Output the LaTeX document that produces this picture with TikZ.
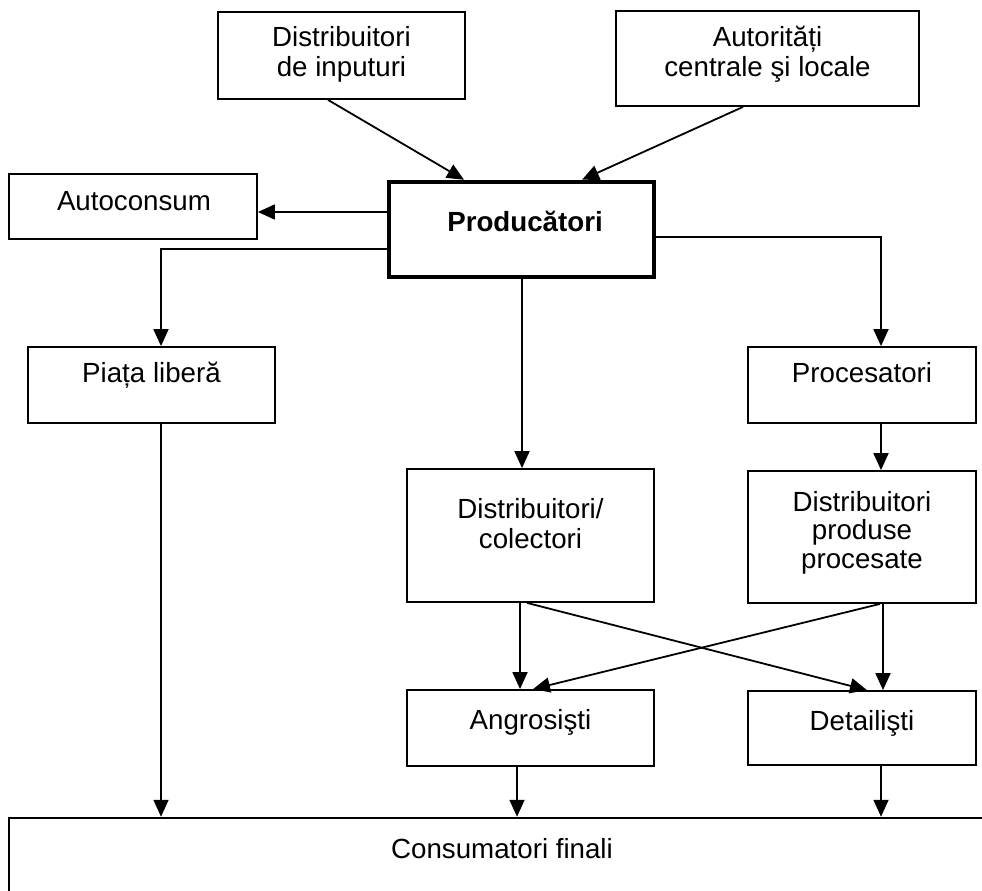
\documentclass[tikz,border=0pt]{standalone}
\usepackage{fontspec}
\setmainfont{Liberation Sans}
\usetikzlibrary{arrows.meta}
\newcommand{\mlines}[2][1]{{\renewcommand\arraystretch{#1}\begin{tabular}[t]{@{}c@{}}#2\end{tabular}}}
\begin{document}
\begin{tikzpicture}[x=1pt,y=-1pt,
  box/.style={draw, rectangle, line width=1.8pt, inner sep=0pt},
  thickbox/.style={draw, rectangle, line width=4.5pt, inner sep=0pt},
  txt/.style={anchor=base, inner sep=0pt, font=\fontsize{27.7}{30}\selectfont},
  arr/.style={line width=1.8pt, -{Triangle[length=17pt,width=15pt]}},
  lnk/.style={line width=1.8pt}]
\useasboundingbox (0,0) rectangle (982,891);
\clip (0,0) rectangle (982,891);
% boxes
\node[box, minimum width=247pt, minimum height=87pt] (din) at (341.5,55.5) {};
\node[box, minimum width=303pt, minimum height=95pt] (aut) at (767.5,58.5) {};
\node[box, minimum width=248pt, minimum height=65pt] (auto) at (133,206.5) {};
\node[thickbox, minimum width=265pt, minimum height=95pt] (prod) at (521.5,229.5) {};
\node[box, minimum width=247pt, minimum height=76pt] (pl) at (151.5,385) {};
\node[box, minimum width=228pt, minimum height=76pt] (proc) at (862,385) {};
\node[box, minimum width=247pt, minimum height=133pt] (dc) at (530.5,535.5) {};
\node[box, minimum width=228pt, minimum height=132pt] (dpp) at (862,537) {};
\node[box, minimum width=247pt, minimum height=76pt] (ang) at (530.5,728) {};
\node[box, minimum width=228pt, minimum height=74pt] (det) at (862,728) {};
\node[box, line width=2.5pt, minimum width=986pt, minimum height=92pt] (cons) at (502,864) {};
% texts
\node[txt] (din-t) at (341.5,47) {\mlines{Distribuitori\\de inputuri}};
\node[txt] (aut-t) at (767.5,46.5) {\mlines{Autorități\\centrale şi locale}};
\node[txt] (auto-t) at (134,210) {Autoconsum};
\node[txt, font=\fontsize{27.7}{30}\selectfont\bfseries] (prod-t) at (525,231) {Producători};
\node[txt] (pl-t) at (151.5,382) {Piața liberă};
\node[txt] (proc-t) at (862,382) {Procesatori};
\node[txt] (dc-t) at (530.5,518) {\mlines[1.03]{Distribuitori/\\colectori}};
\node[txt] (dpp-t) at (862,511) {\mlines[0.95]{Distribuitori\\produse\\procesate}};
\node[txt] (ang-t) at (530.5,729) {Angrosişti};
\node[txt] (det-t) at (862,730) {Detailişti};
\node[txt] (cons-t) at (502,858) {Consumatori finali};
% connectors
\draw[arr] (din.south -| 328,0) -- (prod.north -| 464,0);
\draw[arr] (aut.south -| 743,0) -- (prod.north -| 582,0);
\draw[arr] (prod.west |- 0,212) -- (auto.east |- 0,212);
\draw[arr] (prod.west |- 0,249) -| (pl.north -| 161,0);
\draw[arr] (prod.east |- 0,237) -| (proc.north -| 881,0);
\draw[arr] (prod.south -| 522,0) -- (dc.north -| 522,0);
\draw[arr] (proc.south -| 881,0) -- (dpp.north -| 881,0);
\draw[arr] (dc.south -| 520,0) -- (ang.north -| 520,0);
\draw[arr] (dc.south -| 527,0) -- (det.north -| 867,0);
\draw[arr] (dpp.south -| 880,0) -- (ang.north -| 533,0);
\draw[arr] (dpp.south -| 883,0) -- (det.north -| 883,0);
\draw[arr] (pl.south -| 161,0) -- (cons.north -| 161,0);
\draw[arr] (ang.south -| 517,0) -- (cons.north -| 517,0);
\draw[arr] (det.south -| 881,0) -- (cons.north -| 881,0);
\end{tikzpicture}
\end{document}
